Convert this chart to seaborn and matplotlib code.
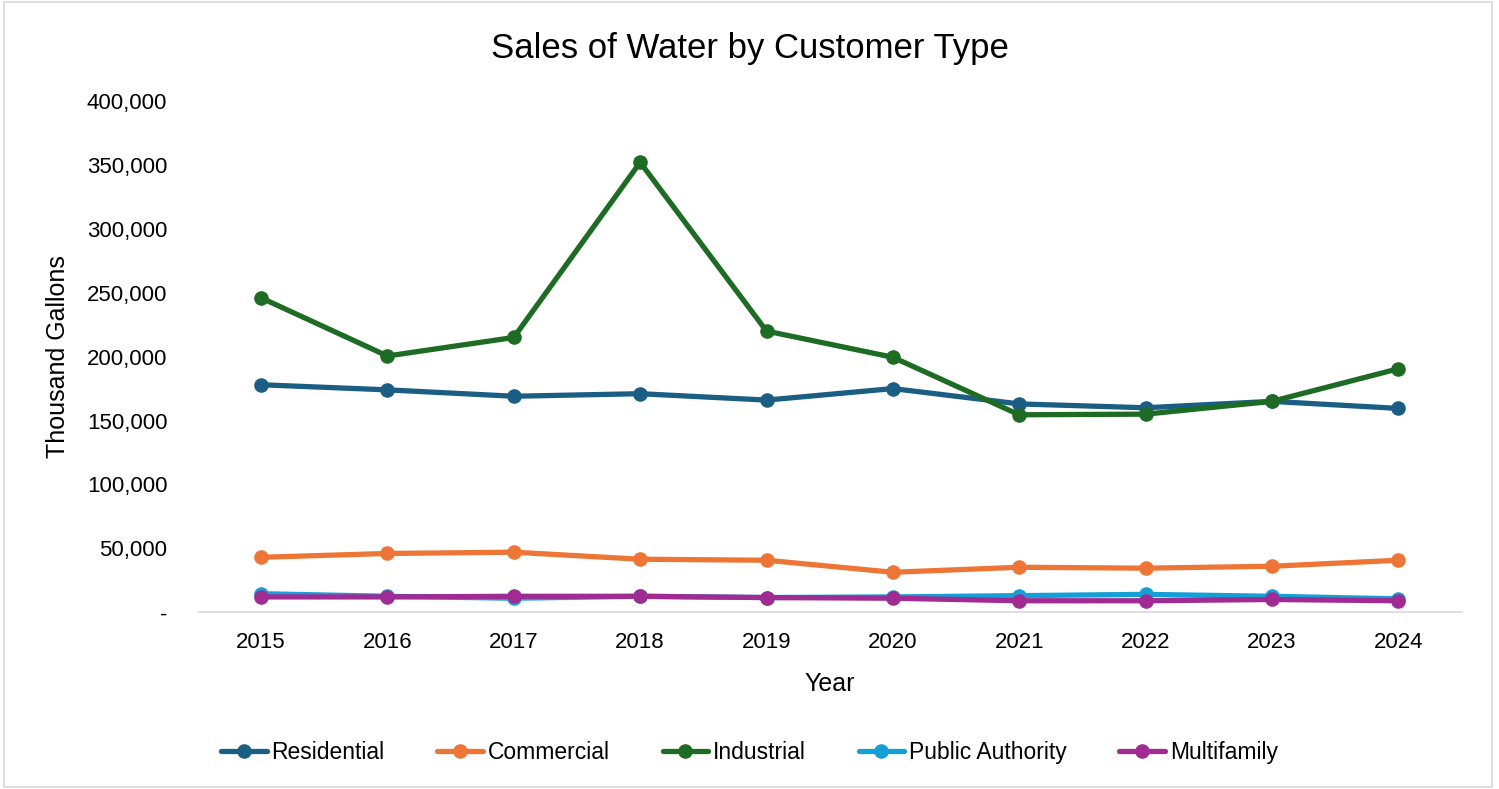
import numpy as np
import pandas as pd
import matplotlib
matplotlib.use('Agg')
import matplotlib.pyplot as plt
import seaborn as sns
from matplotlib.ticker import FuncFormatter
from matplotlib.patches import Rectangle

years = ['2015', '2016', '2017', '2018', '2019', '2020', '2021', '2022', '2023', '2024']
residential = [178000, 174000, 169000, 171000, 166000, 175000, 163000, 160000, 165000, 159500]
commercial = [43000, 46000, 47000, 41500, 40700, 31300, 35200, 34500, 36000, 40700]
industrial = [246000, 200500, 215000, 352000, 220000, 199500, 154500, 155000, 165000, 190500]
public_authority = [14500, 12500, 11000, 12500, 11500, 12000, 13000, 14000, 12500, 10500]
multifamily = [12000, 12000, 12500, 12500, 11500, 11000, 9000, 9000, 10000, 9000]

series_names = ['Residential', 'Commercial', 'Industrial', 'Public Authority', 'Multifamily']
colors = ['#1B5E83', '#ED7636', '#1E6B24', '#14A0D6', '#A02B93']

df = pd.DataFrame({'Year': years,
                   'Residential': residential,
                   'Commercial': commercial,
                   'Industrial': industrial,
                   'Public Authority': public_authority,
                   'Multifamily': multifamily})
long = df.melt(id_vars='Year', var_name='Type', value_name='Value')

sns.set_style('white')
plt.rcParams['font.family'] = ['Liberation Sans', 'DejaVu Sans']
plt.rcParams['text.color'] = 'black'
plt.rcParams['axes.labelcolor'] = 'black'
plt.rcParams['xtick.color'] = 'black'
plt.rcParams['ytick.color'] = 'black'

fig = plt.figure(figsize=(14.99, 7.89), dpi=100)
ax = fig.add_axes([0.132, 0.224, 0.843, 0.648])

sns.lineplot(data=long, x='Year', y='Value', hue='Type', hue_order=series_names,
             palette=colors, marker='o', markersize=10.5, markeredgewidth=0,
             linewidth=3.8, ax=ax)

ax.set_xlim(-0.5, 9.5)
ax.set_ylim(0, 400000)
ax.set_yticks(np.arange(0, 400001, 50000))
ax.yaxis.set_major_formatter(FuncFormatter(lambda v, p: '-' if v == 0 else f'{int(v):,}'))
ax.tick_params(axis='both', labelsize=16, length=0)
ax.tick_params(axis='x', pad=14)
ax.tick_params(axis='y', pad=22)
for s in ['top', 'right', 'left']:
    ax.spines[s].set_visible(False)
ax.spines['bottom'].set_color('#D9D9D9')
ax.spines['bottom'].set_linewidth(1.2)

ax.set_xlabel('Year', fontsize=18, labelpad=14)
ax.set_ylabel('Thousand Gallons', fontsize=18, labelpad=12)
fig.suptitle('Sales of Water by Customer Type', fontsize=25, y=0.96)

handles, labels = ax.get_legend_handles_labels()
ax.legend_.remove()
fig.legend(handles, labels, loc='center', bbox_to_anchor=(0.5, 0.046), ncol=5,
           frameon=False, fontsize=16.5, handlelength=2.0, columnspacing=2.3,
           handletextpad=0.2)

fig.patches.append(Rectangle((0.003, 0.003), 0.992, 0.994, transform=fig.transFigure,
                             fill=False, edgecolor='#D9D9D9', linewidth=1.2))

fig.savefig('out.png', dpi=100)
